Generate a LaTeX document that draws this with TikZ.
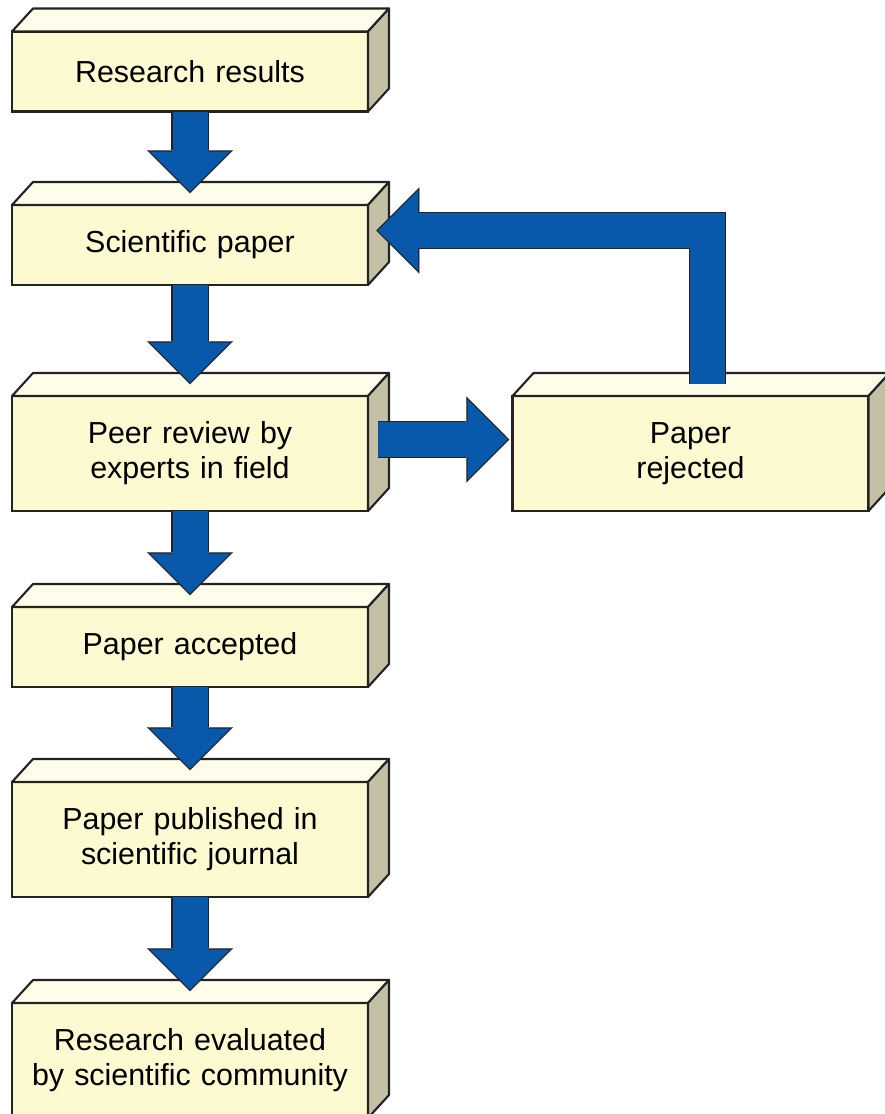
\documentclass[tikz,border=0pt]{standalone}
\usepackage{fontspec}
\setmainfont{Liberation Sans}
\usetikzlibrary{arrows.meta}

\definecolor{boxfront}{RGB}{253,249,208}
\definecolor{boxtop}{RGB}{254,253,234}
\definecolor{boxside}{RGB}{196,192,166}
\definecolor{flowblue}{RGB}{8,88,172}
\definecolor{edge}{RGB}{35,35,35}

\begin{document}
\begin{tikzpicture}
      \tikzstyle{stage} = [
        rectangle,
        draw=edge,
        line width=1.2pt,
        fill=boxfront,
        text width = 7.12cm,
        text centered,
        inner sep = 0pt,
        outer sep = 0pt,
        minimum height = 1.6cm,
        font = \fontsize{17.3}{20}\selectfont
      ]

      \tikzstyle{tall} = [
        stage,
        minimum height = 2.3cm
      ]

      \tikzstyle{topface} = [
        draw=edge,
        line width=1.2pt,
        fill=boxtop,
        line join=round
      ]

      \tikzstyle{sideface} = [
        draw=edge,
        line width=1.2pt,
        fill=boxside,
        line join=round
      ]

      \tikzstyle{flow} = [
        preaction={draw=edge, line width=0.75cm, shorten >=-0.035cm,
          -{Triangle[width=1.72cm, length=0.86cm, line width=0.1pt]}},
        draw=flowblue,
        line width=0.7cm,
        -{Triangle[width=1.6cm, length=0.8cm, line width=0.1pt]}
      ]

      \useasboundingbox (0,0) rectangle (17.7,-22.28);

      \node[stage] (results) at (3.8,-1.43) {Research results};
      \node[stage] (paper) at (3.8,-4.9) {Scientific paper};
      \node[tall] (review) at (3.8,-9.07) {Peer review by\\experts in field};
      \node[tall] (rejected) at (13.81,-9.07) {Paper\\rejected};
      \node[stage] (accepted) at (3.8,-12.94) {Paper accepted};
      \node[tall] (published) at (3.8,-16.79) {Paper published in\\scientific journal};
      \node[tall] (evaluated) at (3.8,-21.21) {Research evaluated\\by scientific community};

      \foreach \n in {results, paper, review, rejected, accepted, published, evaluated} {
        \draw[topface] (\n.north west) -- ++(0.42,0.46)
          -- ([shift={(0.42,0.46)}]\n.north east) -- (\n.north east) -- cycle;
        \draw[sideface] (\n.north east) -- ++(0.42,0.46)
          -- ([shift={(0.42,0.46)}]\n.south east) -- (\n.south east) -- cycle;
      }

      \draw[flow] (results.south) -- ([yshift=0.27cm]paper.north);
      \draw[flow] (paper.south) -- ([yshift=0.27cm]review.north);
      \draw[flow] (review.south) -- ([yshift=0.27cm]accepted.north);
      \draw[flow] (accepted.south) -- ([yshift=0.27cm]published.north);
      \draw[flow] (published.south) -- ([yshift=0.27cm]evaluated.north);
      \draw[flow] ([xshift=0.2cm,yshift=0.28cm]review.east)
        -- ([xshift=-0.1cm,yshift=0.28cm]rejected.west);
      \draw[flow] ([xshift=0.34cm,yshift=0.24cm]rejected.north)
        |- ([xshift=0.2cm,yshift=0.29cm]paper.east);
    \end{tikzpicture}
\end{document}
